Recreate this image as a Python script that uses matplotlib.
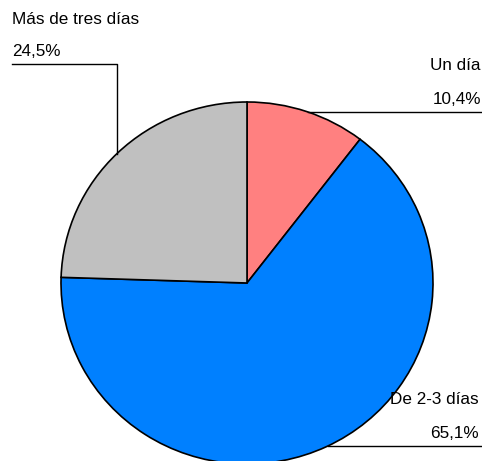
import matplotlib.pyplot as plt
import numpy as np

labels = ['Un día', 'De 2-3 días', 'Más de tres días']
values = [10.4, 65.1, 24.5]
pct_labels = ['10,4%', '65,1%', '24,5%']
colors = ['#FF8080', '#0080FF', '#C0C0C0']

W, H = 482, 461
cx, cy = 247, 283      # pie centre in pixels
rx, ry = 186, 181      # pie radii in pixels

fig = plt.figure(figsize=(W / 100, H / 100), dpi=100)
plt.rcParams['font.family'] = ['Liberation Sans', 'DejaVu Sans']

ax = fig.add_axes([0, 0, 1, 1])
ax.pie(values, colors=colors, startangle=90, counterclock=False,
       wedgeprops=dict(edgecolor='black', linewidth=1.2))
ax.set_aspect('auto')
ax.set_xlim(-cx / rx, (W - cx) / rx)
ax.set_ylim(-(H - cy) / ry, cy / ry)

# overlay in pixel coordinates for labels and leader lines
ov = fig.add_axes([0, 0, 1, 1], facecolor='none')
ov.set_xlim(0, W)
ov.set_ylim(H, 0)
ov.axis('off')

def edge_x(y):
    return cx + rx * np.sqrt(1 - ((y - cy) / ry) ** 2)

def edge_y(x):
    return cy - ry * np.sqrt(1 - ((x - cx) / rx) ** 2)

fs = 12.3
# Un día
ov.text(481, 66, labels[0], ha='right', va='center', fontsize=fs)
ov.text(481, 99, pct_labels[0], ha='right', va='center', fontsize=fs)
ov.plot([edge_x(112), W], [112, 112], color='black', lw=1)

# De 2-3 días
ov.text(479, 399, labels[1], ha='right', va='center', fontsize=fs)
ov.text(479, 433, pct_labels[1], ha='right', va='center', fontsize=fs)
ov.plot([edge_x(446), W], [446, 446], color='black', lw=1)

# Más de tres días
ov.text(12, 19, labels[2], ha='left', va='center', fontsize=fs)
ov.text(12, 52, pct_labels[2], ha='left', va='center', fontsize=fs)
ov.plot([12, 117, 117], [64, 64, edge_y(117)], color='black', lw=1)

plt.savefig('out.png', dpi=100)
